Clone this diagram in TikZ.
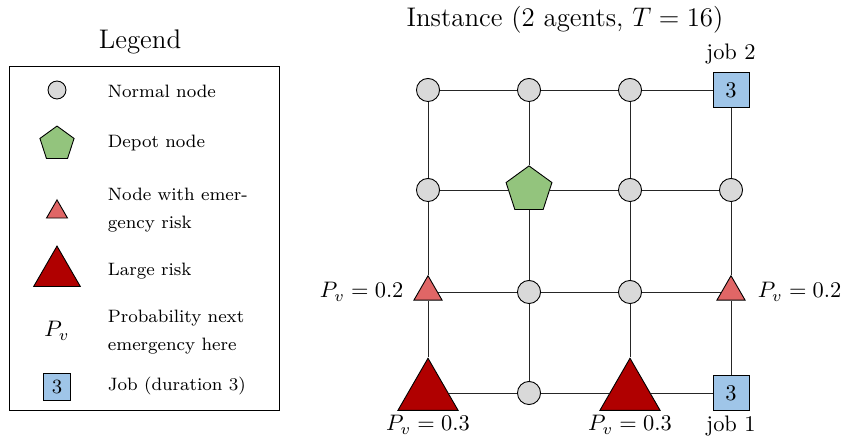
\documentclass[tikz,border=0pt]{standalone}
\usepackage{amsmath,amssymb}
\usepackage{tikz}
\usepackage{xcolor}
\usetikzlibrary{shapes.geometric,positioning}

\definecolor{nodegray}{HTML}{D9D9D9}
\definecolor{depotgreen}{HTML}{93C47D}
\definecolor{riskred}{HTML}{E06666}
\definecolor{bigred}{HTML}{B00000}
\definecolor{jobblue}{HTML}{9FC5E8}

\begin{document}
\begin{tikzpicture}[x=0.446pt, y=-0.446pt,
    normal/.style={circle, draw, fill=nodegray, inner sep=0pt, minimum size=10.3pt},
    depot/.style={regular polygon, regular polygon sides=5, draw, fill=depotgreen, inner sep=0pt, minimum size=21.5pt},
    risk/.style={regular polygon, regular polygon sides=3, draw, fill=riskred, inner sep=0pt, minimum size=14.5pt},
    bigrisk/.style={regular polygon, regular polygon sides=3, draw, fill=bigred, inner sep=0pt, minimum size=31pt},
    job/.style={rectangle, draw, fill=jobblue, inner sep=0pt, minimum size=16pt},
    grid edge/.style={black!85},
    legtext/.style={anchor=west, font=\footnotesize, align=left}]
    \useasboundingbox (0,0) rectangle (845,437);

    % Legend
    \node[font=\large] (legtitle) at (140,42) {Legend};
    \draw (9.5,66.5) rectangle (279,410.5);
    \node[normal, minimum size=8pt] (lnormal) at (57,90) {};
    \node[depot, minimum size=16pt] (ldepot) at (57,144) {};
    \node[risk, minimum size=10.8pt] (lrisk) at (57,212) {};
    \node[bigrisk, minimum size=24pt] (lbig) at (57,273) {};
    \node (lpv) at (57,331) {$P_v$};
    \node[job, minimum size=12pt, font=\small] (ljob) at (57,387) {3};
    \node[legtext] (tnormal) at (100,91) {Normal node};
    \node[legtext] (tdepot) at (100,143) {Depot node};
    \node[legtext] (trisk) at (100,210) {Node with emer-\\[2.8pt]gency risk};
    \node[legtext] (tbig) at (100,271) {Large risk};
    \node[legtext] (tpv) at (100,332) {Probability next\\[2.8pt]emergency here};
    \node[legtext] (tjob) at (100,386) {Job (duration 3)};

    % Instance
    \node[font=\large] (title) at (565,20) {Instance (2 agents, $T = 16$)};

    % Row 1
    \node[normal] (v11) at (428,90) {};
    \node[normal] (v12) at (529,90) {};
    \node[normal] (v13) at (630,90) {};
    \node[job] (v14) at (731,90) {3};
    % Row 2
    \node[normal] (v21) at (428,190) {};
    \node[depot] (v22) at (529,190) {};
    \node[normal] (v23) at (630,190) {};
    \node[normal] (v24) at (731,190) {};
    % Row 3
    \node[risk] (v31) at (428,292) {};
    \node[normal] (v32) at (529,292) {};
    \node[normal] (v33) at (630,292) {};
    \node[risk] (v34) at (731,292) {};
    % Row 4
    \node[bigrisk] (v41) at (428,393) {};
    \node[normal] (v42) at (529,393) {};
    \node[bigrisk] (v43) at (630,393) {};
    \node[job] (v44) at (731,393) {3};

    % Horizontal edges
    \draw[grid edge] (v11) -- (v12);
    \draw[grid edge] (v12) -- (v13);
    \draw[grid edge] (v13) -- (v14);
    \draw[grid edge] (v21) -- (v22);
    \draw[grid edge] (v22) -- (v23);
    \draw[grid edge] (v23) -- (v24);
    \draw[grid edge] (v31) -- (v32);
    \draw[grid edge] (v32) -- (v33);
    \draw[grid edge] (v33) -- (v34);
    \draw[grid edge] (v41) -- (v42);
    \draw[grid edge] (v42) -- (v43);
    \draw[grid edge] (v43) -- (v44);

    % Vertical edges
    \draw[grid edge] (v11) -- (v21);
    \draw[grid edge] (v21) -- (v31);
    \draw[grid edge] (v31) -- (v41);
    \draw[grid edge] (v12) -- (v22);
    \draw[grid edge] (v22) -- (v32);
    \draw[grid edge] (v32) -- (v42);
    \draw[grid edge] (v13) -- (v23);
    \draw[grid edge] (v23) -- (v33);
    \draw[grid edge] (v33) -- (v43);
    \draw[grid edge] (v14) -- (v24);
    \draw[grid edge] (v24) -- (v34);
    \draw[grid edge] (v34) -- (v44);

    % Labels
    \node[left=3pt of v31] (pv31) {$P_v = 0.2$};
    \node[right=4pt of v34] (pv34) {$P_v = 0.2$};
    \node[below=-1.5pt of v41] (pv41) {$P_v = 0.3$};
    \node[below=-1.5pt of v43] (pv43) {$P_v = 0.3$};
    \node[above=0pt of v14] (job2) {job 2};
    \node[below=-1.5pt of v44] (job1) {job 1};
\end{tikzpicture}
\end{document}
